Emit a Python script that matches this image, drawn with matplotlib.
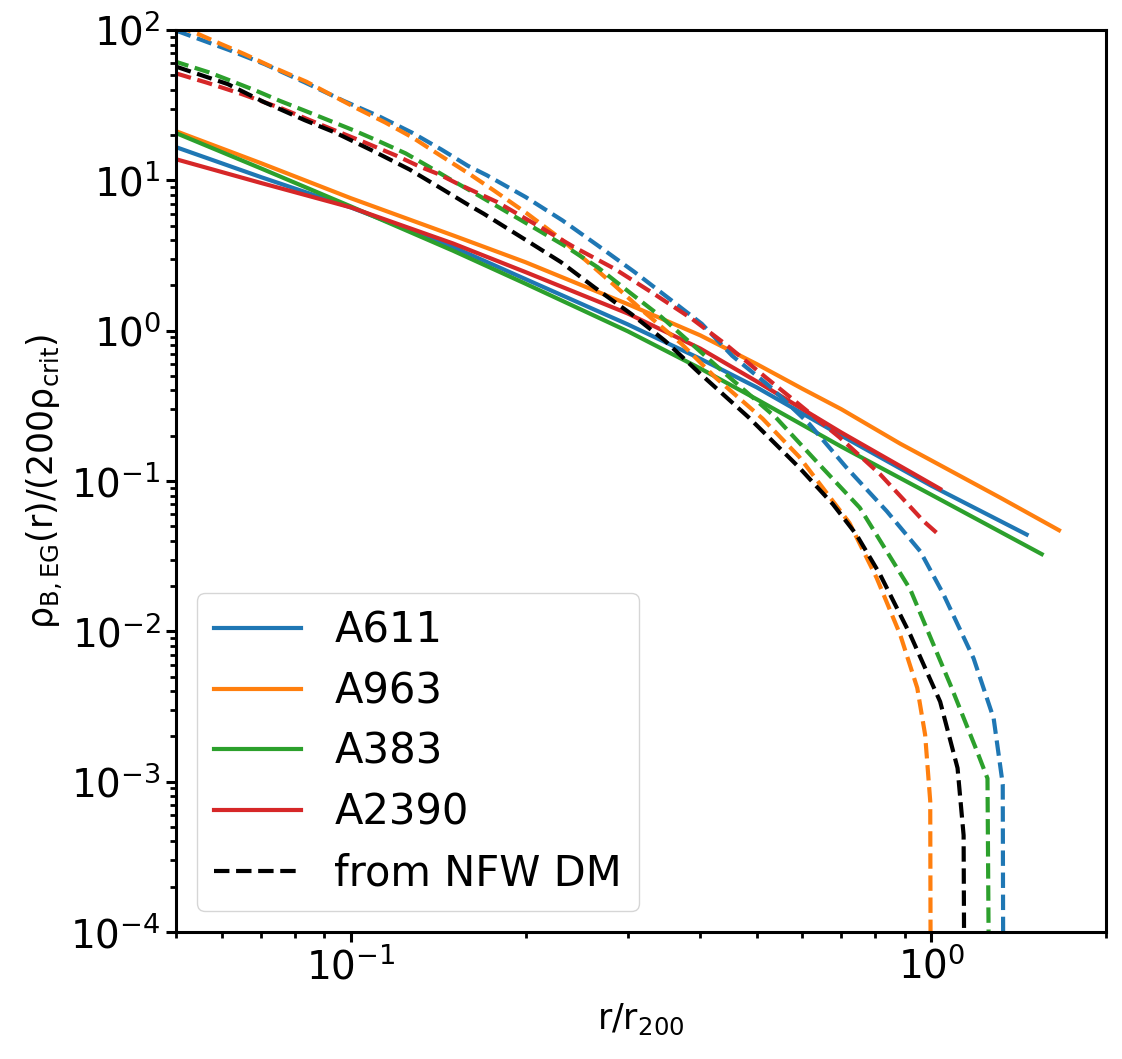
import matplotlib.pyplot as plt

plt.rcParams['mathtext.default'] = 'regular'

# solid lines (rho_B,EG from the baryonic profiles)
r_a611 = [0.05, 0.07, 0.1, 0.15, 0.2, 0.3, 0.4, 0.5, 0.7, 1.0, 1.46]
rho_a611 = [16.6, 10.5, 6.6, 3.6, 2.2, 1.1, 0.65, 0.42, 0.2, 0.093, 0.044]

r_a963 = [0.05, 0.07, 0.1, 0.15, 0.2, 0.3, 0.4, 0.5, 0.6, 0.7, 0.884, 1.0, 1.318, 1.66]
rho_a963 = [21.2, 13.0, 7.6, 4.3, 2.85, 1.5, 0.93, 0.60, 0.41, 0.30, 0.177, 0.137, 0.077, 0.047]

r_a383 = [0.05, 0.07, 0.1, 0.15, 0.2, 0.3, 0.4, 0.5, 0.7, 1.0, 1.55]
rho_a383 = [20.6, 12.0, 6.7, 3.4, 2.05, 0.99, 0.56, 0.35, 0.169, 0.081, 0.0326]

r_a2390 = [0.05, 0.07, 0.1, 0.15, 0.2, 0.3, 0.4, 0.5, 0.7, 1.036]
rho_a2390 = [13.8, 9.6, 6.6, 3.8, 2.45, 1.3, 0.76, 0.46, 0.21, 0.0885]

# dashed lines (from NFW DM fits)
rd_a611 = [0.05, 0.0617, 0.071, 0.0833, 0.0971, 0.1117, 0.1276, 0.1433, 0.159, 0.1715,
           0.2, 0.2315, 0.2662, 0.3083, 0.3523, 0.4024, 0.454, 0.5254, 0.6166, 0.714,
           0.838, 0.957, 1.049, 1.183, 1.281, 1.328, 1.334]
rhod_a611 = [99, 73.5, 59.3, 44.8, 33.8, 26.7, 20.7, 16.0, 12.5, 10.8,
             7.74, 5.41, 3.69, 2.45, 1.65, 1.11, 0.68, 0.43, 0.239, 0.123,
             0.063, 0.0341, 0.0177, 0.0066, 0.00263, 0.00096, 1e-6]

rd_a963 = [0.05, 0.0544, 0.0597, 0.0655, 0.0724, 0.0839, 0.0939, 0.1031, 0.1147, 0.1276,
           0.1423, 0.159, 0.1762, 0.2013, 0.23, 0.2559, 0.2846, 0.3208, 0.3715, 0.4245,
           0.512, 0.592, 0.723, 0.805, 0.884, 0.946, 0.976, 0.996, 1.0]
rhod_a963 = [106, 94.5, 80.7, 69.2, 57.8, 45.2, 35.9, 29.7, 24.2, 19.3,
             14.7, 11.2, 8.58, 6.0, 4.08, 2.86, 2.0, 1.32, 0.815, 0.489,
             0.26, 0.145, 0.0525, 0.0227, 0.0095, 0.0042, 0.00205, 0.00074, 1e-6]

rd_a383 = [0.0495, 0.057, 0.0625, 0.0687, 0.0754, 0.0828, 0.0915, 0.1011, 0.1117, 0.1243,
           0.1364, 0.148, 0.16, 0.1715, 0.2013, 0.233, 0.2662, 0.3042, 0.343, 0.3867,
           0.436, 0.54, 0.641, 0.753, 0.92, 1.079, 1.2, 1.25, 1.266]
rhod_a383 = [62.1, 52.2, 45.5, 39.4, 33.8, 29.3, 25.1, 21.5, 18.2, 15.1,
             12.3, 10.2, 8.6, 7.36, 5.14, 3.69, 2.64, 1.76, 1.23, 0.815,
             0.54, 0.264, 0.129, 0.0664, 0.019, 0.0044, 0.00158, 0.00105, 1e-6]

rd_a2390 = [0.05, 0.0566, 0.0647, 0.0759, 0.0891, 0.1059, 0.1202, 0.131, 0.1423, 0.1518,
            0.1786, 0.2095, 0.2426, 0.2846, 0.3296, 0.3867, 0.4417, 0.5185, 0.595, 0.695,
            0.816, 0.97, 1.023]
rhod_a2390 = [51.4, 44.5, 37.6, 30.1, 23.3, 17.8, 14.5, 12.4, 10.9, 9.6,
              7.17, 5.01, 3.59, 2.58, 1.80, 1.2, 0.815, 0.489, 0.318, 0.195,
              0.111, 0.054, 0.045]

rd_nfw = [0.05, 0.0614, 0.071, 0.0833, 0.0939, 0.1091, 0.1262, 0.1433, 0.159, 0.1693,
          0.1987, 0.23, 0.2628, 0.3042, 0.3476, 0.397, 0.485, 0.592, 0.677, 0.743,
          0.816, 0.92, 1.036, 1.11, 1.137, 1.145]
rhod_nfw = [57, 43.6, 33, 25.1, 20.8, 15.7, 11.8, 8.8, 6.9, 6.0,
            4.08, 2.86, 1.94, 1.29, 0.857, 0.53, 0.264, 0.123, 0.07, 0.044,
            0.0239, 0.0095, 0.0034, 0.00123, 0.00044, 1e-6]

fig = plt.figure(figsize=(11.22, 10.59), dpi=100)
ax = fig.add_axes([0.157, 0.12, 0.8287, 0.8517])

lw = 3
ax.plot(r_a611, rho_a611, color='C0', lw=lw, label='A611')
ax.plot(r_a963, rho_a963, color='C1', lw=lw, label='A963')
ax.plot(r_a383, rho_a383, color='C2', lw=lw, label='A383')
ax.plot(r_a2390, rho_a2390, color='C3', lw=lw, label='A2390')
ax.plot(rd_a611, rhod_a611, color='C0', lw=lw, ls='--')
ax.plot(rd_a963, rhod_a963, color='C1', lw=lw, ls='--')
ax.plot(rd_a383, rhod_a383, color='C2', lw=lw, ls='--')
ax.plot(rd_a2390, rhod_a2390, color='C3', lw=lw, ls='--')
ax.plot(rd_nfw, rhod_nfw, color='k', lw=lw, ls='--', label='from NFW DM')

ax.set_xscale('log')
ax.set_yscale('log')
ax.set_xlim(0.05, 2)
ax.set_ylim(1e-4, 1e2)

ax.set_xlabel(r'$r/r_{200}$', fontsize=25, labelpad=11)
ax.set_ylabel(r'$\rho_{B,EG}(r)/(200\rho_{crit})$', fontsize=25)

for s in ax.spines.values():
    s.set_linewidth(2.2)
ax.tick_params(which='major', labelsize=28, length=7.5, width=2.2)
ax.tick_params(which='minor', length=4.5, width=2)

ax.legend(loc='lower left', fontsize=30, handlelength=2.1, labelspacing=0.45)

plt.savefig('out.png')
